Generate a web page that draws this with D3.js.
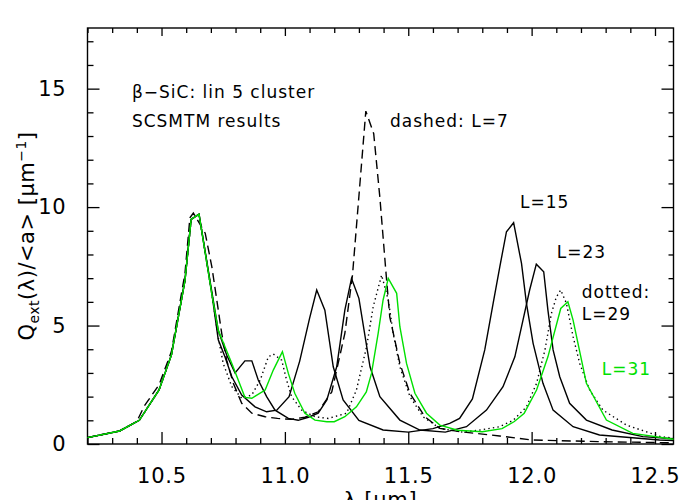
<!DOCTYPE html>
<html>
<head>
<meta charset="utf-8">
<script src="https://cdn.jsdelivr.net/npm/d3@7"></script>
<style>
  body { margin: 0; background: #fff; }
  svg text { font-family: "DejaVu Sans", sans-serif; fill: #000; }
</style>
</head>
<body>
<svg id="chart"></svg>
<script>
// wavelength (um) and Q_ext/<a> (um^-1), one pair per curve
const lam7 = [10.20, 10.33, 10.40, 10.43, 10.49, 10.54, 10.595, 10.615, 10.629, 10.677, 10.704, 10.724, 10.744, 10.764, 10.791, 10.825, 10.866, 10.92, 10.97, 11.027, 11.081, 11.135, 11.19, 11.243, 11.274, 11.328, 11.36, 11.385, 11.41, 11.425, 11.466, 11.507, 11.567, 11.628, 11.709, 11.87, 12.0, 12.27, 12.575];
const q7   = [0.27, 0.55, 0.95, 1.6, 2.5, 3.9, 7.2, 9.55, 9.75, 8.9, 7.48, 6.08, 4.67, 3.54, 2.56, 1.72, 1.3, 1.15, 1.08, 1.04, 1.13, 1.36, 2.2, 4.67, 7.13, 14.05, 13.1, 10.4, 7.2, 5.37, 3.4, 2.14, 1.15, 0.66, 0.52, 0.34, 0.17, 0.1, 0.05];

const lam15 = [10.20, 10.33, 10.41, 10.49, 10.54, 10.595, 10.62, 10.652, 10.706, 10.73, 10.757, 10.785, 10.825, 10.879, 10.926, 10.967, 11.017, 11.06, 11.10, 11.129, 11.162, 11.196, 11.236, 11.30, 11.398, 11.5, 11.6, 11.668, 11.708, 11.76, 11.81, 11.844, 11.871, 11.898, 11.927, 11.959, 11.979, 12.006, 12.046, 12.087, 12.168, 12.275, 12.518, 12.575];
const q15   = [0.27, 0.55, 1.0, 2.28, 3.75, 6.9, 9.48, 9.7, 6.2, 4.4, 3.68, 2.84, 2.07, 1.57, 1.36, 1.43, 2.0, 3.5, 5.3, 6.5, 5.65, 3.26, 1.86, 1.0, 0.59, 0.5, 0.65, 0.87, 1.08, 1.9, 3.97, 5.94, 7.48, 8.96, 9.34, 7.62, 5.94, 4.25, 2.56, 1.43, 0.73, 0.38, 0.17, 0.15];

const lam23 = [10.20, 10.33, 10.41, 10.49, 10.54, 10.595, 10.62, 10.652, 10.706, 10.73, 10.764, 10.798, 10.838, 10.866, 10.892, 10.926, 10.96, 11.014, 11.054, 11.095, 11.135, 11.17, 11.21, 11.243, 11.27, 11.30, 11.345, 11.385, 11.466, 11.547, 11.65, 11.736, 11.817, 11.884, 11.932, 11.965, 11.992, 12.019, 12.049, 12.066, 12.087, 12.114, 12.154, 12.222, 12.326, 12.451, 12.575];
const q23   = [0.27, 0.55, 1.0, 2.28, 3.75, 6.9, 9.48, 9.7, 6.3, 4.8, 3.76, 3.0, 3.51, 3.51, 2.7, 2.0, 1.43, 1.08, 1.0, 1.13, 1.3, 1.86, 3.26, 5.65, 6.99, 6.15, 3.26, 2.0, 1.01, 0.59, 0.5, 0.73, 1.43, 2.42, 3.68, 5.23, 6.5, 7.59, 7.27, 5.65, 3.97, 2.84, 1.72, 1.01, 0.59, 0.31, 0.22];

const lam29 = [10.20, 10.33, 10.41, 10.49, 10.54, 10.595, 10.62, 10.652, 10.706, 10.73, 10.75, 10.785, 10.825, 10.866, 10.9, 10.933, 10.953, 10.987, 11.007, 11.027, 11.068, 11.122, 11.176, 11.25, 11.29, 11.331, 11.358, 11.392, 11.419, 11.439, 11.466, 11.507, 11.56, 11.628, 11.72, 11.79, 11.87, 11.925, 11.979, 12.02, 12.054, 12.08, 12.1, 12.118, 12.141, 12.168, 12.195, 12.235, 12.289, 12.384, 12.523, 12.575];
const q29   = [0.27, 0.55, 1.0, 2.28, 3.75, 6.9, 9.48, 9.7, 6.2, 4.5, 3.4, 2.42, 1.93, 2.07, 2.7, 3.68, 3.8, 3.54, 2.7, 2.0, 1.43, 1.15, 1.08, 1.3, 2.28, 4.1, 5.8, 7.13, 6.08, 4.67, 3.26, 2.0, 1.15, 0.66, 0.5, 0.59, 0.73, 1.0, 1.57, 2.56, 3.97, 5.5, 6.2, 6.5, 5.94, 4.53, 3.4, 2.28, 1.43, 0.8, 0.31, 0.25];

const lam31 = [10.20, 10.33, 10.41, 10.49, 10.54, 10.595, 10.62, 10.652, 10.706, 10.73, 10.785, 10.838, 10.866, 10.92, 10.953, 10.973, 10.99, 11.014, 11.04, 11.081, 11.122, 11.17, 11.20, 11.243, 11.29, 11.33, 11.351, 11.378, 11.398, 11.419, 11.453, 11.466, 11.493, 11.527, 11.574, 11.628, 11.70, 11.80, 11.88, 11.93, 11.97, 12.02, 12.066, 12.118, 12.147, 12.168, 12.208, 12.222, 12.303, 12.41, 12.575];
const q31   = [0.27, 0.55, 1.0, 2.28, 3.75, 6.9, 9.48, 9.7, 6.2, 4.8, 3.4, 1.97, 1.93, 2.28, 3.12, 3.54, 3.9, 2.98, 2.14, 1.3, 1.01, 0.94, 0.94, 1.15, 1.57, 2.2, 2.98, 4.67, 6.08, 6.99, 6.36, 4.95, 3.4, 2.14, 1.3, 0.8, 0.58, 0.52, 0.65, 0.95, 1.3, 2.28, 3.68, 5.72, 6.0, 5.23, 3.26, 2.56, 1.01, 0.45, 0.2];

const xTicks = [10.5, 11.0, 11.5, 12.0, 12.5];
const yTicks = [0, 5, 10, 15];

const green = "#00e000";

function makeSeries(lam, q) {
  return lam.map((d, i) => ({ lam: d, q: q[i] }));
}

function drawChart() {
  const W = 700, H = 500;
  const margin = { top: 28, right: 26.5, bottom: 56, left: 87.5 };
  const width = W - margin.left - margin.right;
  const height = H - margin.top - margin.bottom;

  const svg = d3.select("#chart")
    .attr("width", W)
    .attr("height", H)
    .append("g")
    .attr("transform", `translate(${margin.left}, ${margin.top})`);

  const xScale = d3.scaleLinear().domain([10.2, 12.575]).range([0, width]);
  const yScale = d3.scaleLinear().domain([0, 17.56]).range([height, 0]);

  const xMinor = d3.range(10.2, 12.58, 0.1).map(d => +d.toFixed(1)).filter(d => !xTicks.includes(d));
  const yMinor = d3.range(0, 18, 1).filter(d => !yTicks.includes(d));

  // axes, ticks inward on all four sides
  const fmt = d3.format(".1f");
  svg.append("g")
    .attr("transform", `translate(0, ${height})`)
    .call(d3.axisBottom(xScale).tickValues(xTicks).tickSize(-12).tickPadding(24).tickFormat(fmt))
    .call(g => g.select(".domain").remove());
  svg.append("g")
    .attr("transform", `translate(0, ${height})`)
    .call(d3.axisBottom(xScale).tickValues(xMinor).tickSize(-6).tickFormat(""))
    .call(g => g.select(".domain").remove());
  svg.append("g")
    .call(d3.axisTop(xScale).tickValues(xTicks).tickSize(-8).tickFormat(""))
    .call(g => g.select(".domain").remove());
  svg.append("g")
    .call(d3.axisTop(xScale).tickValues(xMinor).tickSize(-5).tickFormat(""))
    .call(g => g.select(".domain").remove());

  svg.append("g")
    .call(d3.axisLeft(yScale).tickValues(yTicks).tickSize(-12).tickPadding(21).tickFormat(d3.format("d")))
    .call(g => g.select(".domain").remove());
  svg.append("g")
    .call(d3.axisLeft(yScale).tickValues(yMinor).tickSize(-6).tickFormat(""))
    .call(g => g.select(".domain").remove());
  svg.append("g")
    .attr("transform", `translate(${width}, 0)`)
    .call(d3.axisRight(yScale).tickValues(yTicks).tickSize(-12).tickFormat(""))
    .call(g => g.select(".domain").remove());
  svg.append("g")
    .attr("transform", `translate(${width}, 0)`)
    .call(d3.axisRight(yScale).tickValues(yMinor).tickSize(-5).tickFormat(""))
    .call(g => g.select(".domain").remove());

  svg.selectAll(".tick line").attr("stroke", "#000").attr("stroke-width", 1.3);
  svg.selectAll(".tick text")
    .style("font-size", "21px")
    .style("letter-spacing", "0.8px")
    .style("font-family", "'DejaVu Sans', sans-serif");

  // frame
  svg.append("rect")
    .attr("x", 0).attr("y", 0)
    .attr("width", width).attr("height", height)
    .attr("fill", "none")
    .attr("stroke", "#000")
    .attr("stroke-width", 1.4);

  // curves
  const line = d3.line()
    .x(d => xScale(d.lam))
    .y(d => yScale(d.q));

  const curves = [
    { data: makeSeries(lam7, q7), color: "#000", dash: "9,5" },
    { data: makeSeries(lam15, q15), color: "#000", dash: null },
    { data: makeSeries(lam23, q23), color: "#000", dash: null },
    { data: makeSeries(lam29, q29), color: "#000", dash: "1.4,3.2" },
    { data: makeSeries(lam31, q31), color: green, dash: null }
  ];

  curves.forEach(c => {
    svg.append("path")
      .datum(c.data)
      .attr("fill", "none")
      .attr("stroke", c.color)
      .attr("stroke-width", 1.4)
      .attr("stroke-linejoin", "miter")
      .attr("stroke-dasharray", c.dash)
      .attr("d", line);
  });

  // annotations (positions in data units)
  const notes = [
    { text: "\u03B2\u2212SiC: lin 5 cluster", lam: 10.38, q: 14.6, color: "#000" },
    { text: "SCSMTM results", lam: 10.38, q: 13.4, color: "#000" },
    { text: "dashed: L=7", lam: 11.426, q: 13.4, color: "#000" },
    { text: "L=15", lam: 11.953, q: 9.95, color: "#000" },
    { text: "L=23", lam: 12.102, q: 7.85, color: "#000" },
    { text: "dotted:", lam: 12.203, q: 6.15, color: "#000" },
    { text: "L=29", lam: 12.203, q: 5.23, color: "#000" },
    { text: "L=31", lam: 12.284, q: 2.9, color: green }
  ];
  svg.selectAll(".note")
    .data(notes)
    .enter()
    .append("text")
    .attr("class", "note")
    .attr("x", d => xScale(d.lam))
    .attr("y", d => yScale(d.q))
    .style("font-size", "17px")
    .style("letter-spacing", "1px")
    .style("fill", d => d.color)
    .text(d => d.text);

  // axis titles
  svg.append("text")
    .attr("text-anchor", "middle")
    .attr("x", width / 2)
    .attr("y", height + 63)
    .style("font-size", "21px")
    .style("letter-spacing", "0.8px")
    .text("\u03BB [\u03BCm]");

  const yTitle = svg.append("text")
    .attr("text-anchor", "middle")
    .attr("transform", `translate(${-margin.left + 34}, ${height / 2}) rotate(-90)`)
    .style("font-size", "21px")
    .style("letter-spacing", "0.5px");
  yTitle.append("tspan").text("Q");
  yTitle.append("tspan").attr("dy", 5).style("font-size", "14px").text("ext");
  yTitle.append("tspan").attr("dy", -5).text("(\u03BB)/<a> [\u03BCm");
  yTitle.append("tspan").attr("dy", -8).style("font-size", "14px").text("\u22121");
  yTitle.append("tspan").attr("dy", 8).text("]");
}

drawChart();
</script>
</body>
</html>
